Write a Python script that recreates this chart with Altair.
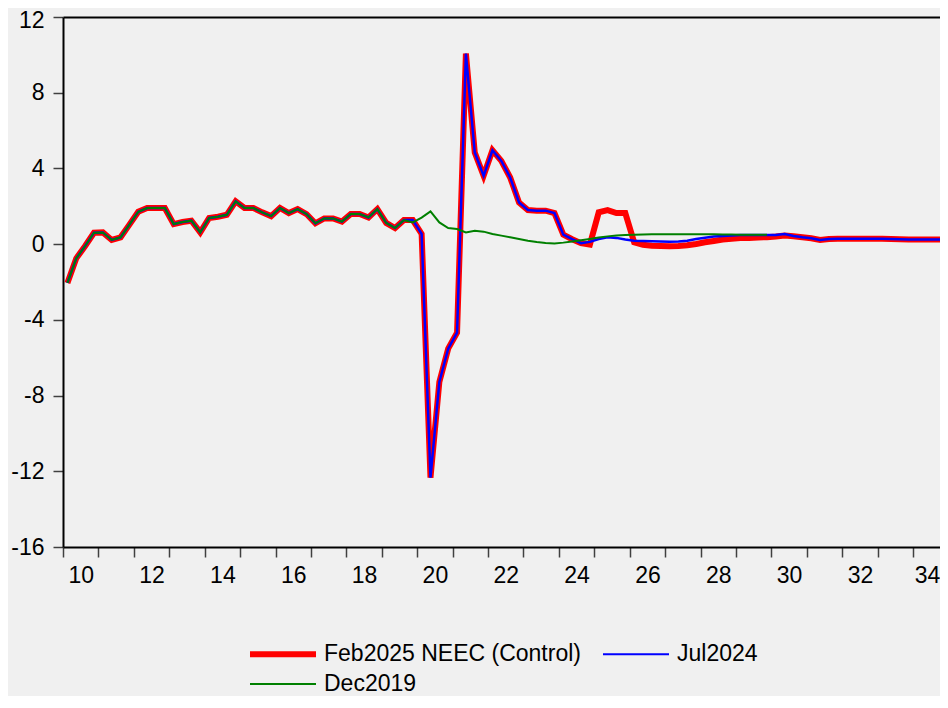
import altair as alt
import pandas as pd

# ---- data (quarterly, 2010Q1 .. 2034Q4) ----
first_year = 2010
history_2010_2019 = [  # 2010Q1 .. 2019Q3, common to all vintages
    -2.05, -0.75, -0.10, 0.60, 0.62, 0.22, 0.36, 1.03, 1.71, 1.91,
    1.91, 1.91, 1.06, 1.17, 1.24, 0.62, 1.38, 1.45, 1.55, 2.26,
    1.91, 1.91, 1.68, 1.48, 1.91, 1.64, 1.85, 1.59, 1.10, 1.36,
    1.36, 1.19, 1.59, 1.59, 1.41, 1.85, 1.12, 0.85, 1.27,
]
history_2019_2024 = [  # 2019Q4 .. 2024Q2, common to Feb2025 and Jul2024
    1.27, 0.54, -12.34, -7.28, -5.52, -4.68, 10.07, 4.84, 3.61, 4.96,
    4.40, 3.52, 2.20, 1.80, 1.77, 1.77, 1.64, 0.50, 0.26,
]
feb2025_tail = [  # 2024Q3 .. 2034Q4
    0.05, -0.02, 1.68, 1.80, 1.64, 1.64, 0.10, -0.03, -0.08, -0.10,
    -0.11, -0.10, -0.06, 0.01, 0.10, 0.17, 0.24, 0.29, 0.32, 0.33,
    0.35, 0.37, 0.40, 0.46, 0.42, 0.36, 0.31, 0.22, 0.27, 0.29,
    0.29, 0.29, 0.29, 0.29, 0.29, 0.27, 0.26, 0.24, 0.24, 0.24,
    0.24, 0.26,
]
jul2024_tail = [  # 2024Q3 .. 2034Q4
    0.05, 0.12, 0.27, 0.36, 0.33, 0.24, 0.18, 0.16, 0.15, 0.14,
    0.13, 0.14, 0.18, 0.27, 0.34, 0.40, 0.43, 0.46, 0.48, 0.48,
    0.48, 0.48, 0.48, 0.54, 0.43, 0.36, 0.31, 0.22, 0.27, 0.29,
    0.29, 0.29, 0.29, 0.29, 0.29, 0.27, 0.26, 0.24, 0.24, 0.24,
    0.24, 0.26,
]
dec2019_tail = [  # 2019Q4 .. 2029Q4
    1.15, 1.40, 1.73, 1.15, 0.85, 0.80, 0.62, 0.71, 0.66, 0.54,
    0.45, 0.36, 0.27, 0.18, 0.11, 0.06, 0.04, 0.08, 0.14, 0.20,
    0.27, 0.35, 0.41, 0.46, 0.48, 0.50, 0.51, 0.52, 0.52, 0.52,
    0.52, 0.52, 0.52, 0.52, 0.52, 0.51, 0.51, 0.50, 0.50, 0.50,
    0.50,
]

series_names = ["Feb2025 NEEC (Control)", "Jul2024", "Dec2019"]
series_colors = ["#FF0000", "#0000FF", "#008000"]
series_widths = [6, 2.5, 2]
y_ticks = [-16, -12, -8, -4, 0, 4, 8, 12]
x_ticks = list(range(2010, 2035))

series_values = [
    history_2010_2019 + history_2019_2024 + feb2025_tail,
    history_2010_2019 + history_2019_2024 + jul2024_tail,
    history_2010_2019 + dec2019_tail,
]

rows = []
for name, vals in zip(series_names, series_values):
    for k, v in enumerate(vals):
        rows.append({"series": name, "t": first_year + k / 4 + 0.125, "value": v})
df = pd.DataFrame(rows)

FONT = "Liberation Sans"
PX_PER_YEAR = 35.42
W, H = 877, 530
X_END = 2010 + W / PX_PER_YEAR

legend = alt.Legend(
    title=None, orient="none", legendX=187, legendY=625.5, columns=2,
    direction="horizontal",
    symbolType="stroke", symbolSize=4356, symbolOffset=21.5,
    symbolStrokeWidth=alt.ExprRef(expr="datum.value === 'Feb2025 NEEC (Control)' ? 6 : 2"),
    labelFont=FONT, labelFontSize=23, labelColor="black", labelLimit=0,
    labelOffset=29.5, columnPadding=18, rowPadding=6, padding=0,
)

color = alt.Color(
    "series:N",
    scale=alt.Scale(domain=series_names, range=series_colors),
    legend=legend,
)

x_scale = alt.Scale(domain=[2010, X_END], nice=False, zero=False)
x_bottom = alt.X(
    "t:Q", scale=x_scale,
    axis=alt.Axis(
        values=x_ticks, title=None, grid=False,
        labelExpr="datum.value % 2 === 0 ? toString(datum.value % 100) : ''",
        labelOffset={"condition": {"test": "datum.value === 2034", "value": 14},
                     "value": PX_PER_YEAR / 2},
        labelOverlap=False, labelFlush=False,
        labelFont=FONT, labelFontSize=23, labelColor="black", labelPadding=7,
        tickSize=10, tickWidth=1.5, tickColor="#404040",
        domainColor="black", domainWidth=2,
    ),
)
x_none = alt.X("t:Q", scale=x_scale, axis=None)
x_top = alt.X(
    "t:Q", scale=x_scale,
    axis=alt.Axis(
        orient="top", title=None, grid=False, labels=False, ticks=False,
        domainColor="black", domainWidth=2,
    ),
)
y_enc = alt.Y(
    "value:Q",
    scale=alt.Scale(domain=[-16, 12], nice=False, zero=False),
    axis=alt.Axis(
        values=y_ticks, title=None, grid=False,
        labelExpr="toString(datum.value)",
        labelOffset={"condition": {"test": "datum.value === 12", "value": 3},
                     "value": 0},
        labelFont=FONT, labelFontSize=23, labelColor="black", labelPadding=9,
        tickSize=10, tickWidth=1.5, tickColor="#404040",
        domainColor="black", domainWidth=2,
    ),
)

layers = []
for name, w, xe in zip(series_names, series_widths, [x_bottom, x_none, x_top]):
    layers.append(
        alt.Chart(df)
        .transform_filter(alt.datum.series == name)
        .mark_line(strokeWidth=w, strokeJoin="miter", clip=True)
        .encode(x=xe, y=y_enc, color=color)
    )

chart = (
    alt.layer(*layers)
    .resolve_axis(x="independent")
    .properties(
        width=W, height=H, background="#F0F0F0",
        padding={"left": 55, "top": 9, "right": 0, "bottom": 149},
        autosize=alt.AutoSizeParams(type="none"),
    )
    .configure_view(fill="white", stroke="transparent")
    .configure(font=FONT)
)

chart.save("out.html", embed_options={"renderer": "svg", "actions": False})
